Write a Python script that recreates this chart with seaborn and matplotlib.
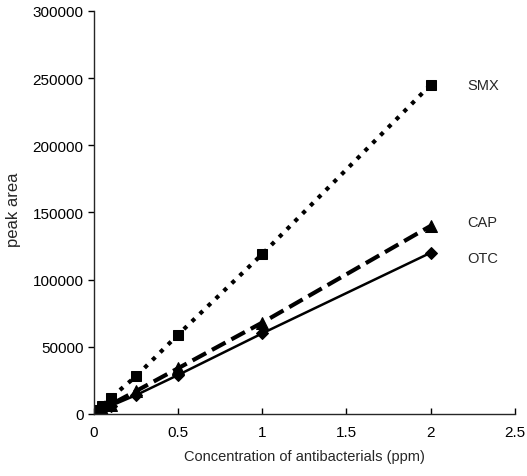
import matplotlib.pyplot as plt
import matplotlib as mpl
import seaborn as sns
import pandas as pd

sns.set_theme(style="ticks")
mpl.rcParams.update({
    'font.family': ['Liberation Sans', 'DejaVu Sans'],
    'axes.linewidth': 1.0,
})

conc = [0.01, 0.025, 0.05, 0.1, 0.25, 0.5, 1, 2]
smx = [1200, 3000, 6000, 12000, 28000, 59000, 119000, 245000]
cap = [700, 1700, 3500, 7000, 17000, 34000, 68000, 140000]
otc = [600, 1500, 3000, 6000, 14000, 29000, 60000, 120000]

df = pd.DataFrame({
    'conc': conc * 3,
    'area': smx + cap + otc,
    'drug': ['SMX'] * len(conc) + ['CAP'] * len(conc) + ['OTC'] * len(conc),
})

fig = plt.figure(figsize=(5.27, 4.77), dpi=100)
ax = fig.add_axes([0.178, 0.13, 0.799, 0.845])

styles = {'SMX': (':', 's', 3.0, 7), 'CAP': ('--', '^', 3.0, 8), 'OTC': ('-', 'D', 1.8, 6)}
for name, (ls, mk, lw, ms) in styles.items():
    sns.lineplot(data=df[df['drug'] == name], x='conc', y='area', color='black',
                 linestyle=ls, linewidth=lw, marker=mk, markersize=ms,
                 markeredgecolor='black', ax=ax)

ax.text(2.22, 245000, 'SMX', fontsize=10.5, va='center')
ax.text(2.22, 143000, 'CAP', fontsize=10.5, va='center')
ax.text(2.22, 116000, 'OTC', fontsize=10.5, va='center')

ax.set_xlim(0, 2.5)
ax.set_ylim(0, 300000)
ax.set_xticks([0, 0.5, 1, 1.5, 2, 2.5])
ax.set_xticklabels(['0', '0.5', '1', '1.5', '2', '2.5'])
ax.set_yticks(range(0, 300001, 50000))
ax.set_xlabel('Concentration of antibacterials (ppm)', fontsize=10.5, labelpad=7)
ax.set_ylabel('peak area', fontsize=12)
ax.yaxis.set_label_coords(-0.172, 0.51)
ax.tick_params(axis='both', labelsize=11, length=4, width=1, colors='black')
ax.tick_params(axis='x', direction='in', pad=8)
sns.despine(ax=ax)

fig.savefig('out.png', dpi=100)
